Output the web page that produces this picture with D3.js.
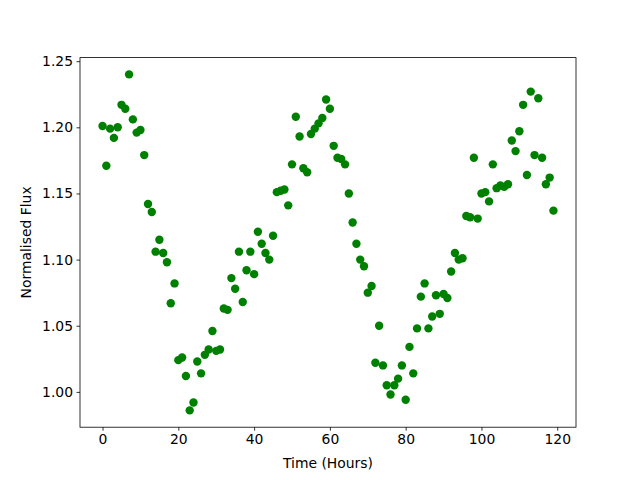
<!DOCTYPE html>
<html>
<head>
<meta charset="utf-8">
<script src="https://cdn.jsdelivr.net/npm/d3@7"></script>
<style>
  body { margin: 0; background: #fff; }
  text { font-family: "DejaVu Sans", sans-serif; }
</style>
</head>
<body>
<div id="viz"></div>
<script>
// hourly samples, 0..119
const hours = d3.range(0, 120);

// normalised flux
const flux = [
  1.201, 1.171, 1.199, 1.192, 1.200, 1.217, 1.214, 1.240, 1.206, 1.196,
  1.198, 1.179, 1.142, 1.136, 1.106, 1.115, 1.105, 1.098, 1.067, 1.082,
  1.024, 1.026, 1.012, 0.986, 0.992, 1.023, 1.014, 1.028, 1.032, 1.046,
  1.031, 1.032, 1.063, 1.062, 1.086, 1.078, 1.106, 1.068, 1.092, 1.106,
  1.089, 1.121, 1.112, 1.105, 1.100, 1.118, 1.151, 1.152, 1.153, 1.141,
  1.172, 1.208, 1.193, 1.169, 1.166, 1.195, 1.199, 1.203, 1.207, 1.221,
  1.214, 1.186, 1.177, 1.176, 1.172, 1.150, 1.128, 1.112, 1.100, 1.095,
  1.075, 1.080, 1.022, 1.050, 1.020, 1.005, 0.998, 1.005, 1.010, 1.020,
  0.994, 1.034, 1.014, 1.048, 1.072, 1.082, 1.048, 1.057, 1.073, 1.059,
  1.074, 1.071, 1.091, 1.105, 1.100, 1.101, 1.133, 1.132, 1.177, 1.131,
  1.150, 1.151, 1.144, 1.172, 1.154, 1.156, 1.155, 1.157, 1.190, 1.182,
  1.197, 1.217, 1.164, 1.227, 1.179, 1.222, 1.177, 1.157, 1.162, 1.137
];

const xTicks = [0, 20, 40, 60, 80, 100, 120];
const yTicks = [1.00, 1.05, 1.10, 1.15, 1.20, 1.25];

const width = 640, height = 480;
const plotLeft = 80, plotRight = 576, plotTop = 57.6, plotBottom = 427.2;

const svg = d3.select("#viz")
    .append("svg")
    .attr("width", width)
    .attr("height", height);

// matplotlib style 5% margins around the data
function padded(vals) {
    const [lo, hi] = d3.extent(vals);
    const m = (hi - lo) * 0.05;
    return [lo - m, hi + m];
}

const xScale = d3.scaleLinear().domain(padded(hours)).range([plotLeft, plotRight]);
const yScale = d3.scaleLinear().domain(padded(flux)).range([plotBottom, plotTop]);

// points
svg.append("g")
    .selectAll("circle")
    .data(hours)
    .enter()
    .append("circle")
    .attr("cx", (d) => xScale(d))
    .attr("cy", (d, i) => yScale(flux[i]))
    .attr("r", 4.2)
    .attr("fill", "#008000");

// axes
const xAxis = svg.append("g")
    .attr("transform", `translate(0,${plotBottom})`)
    .call(d3.axisBottom(xScale).tickValues(xTicks).tickFormat(d3.format("d"))
        .tickSize(3.5).tickPadding(3.5).tickSizeOuter(0));

const yAxis = svg.append("g")
    .attr("transform", `translate(${plotLeft},0)`)
    .call(d3.axisLeft(yScale).tickValues(yTicks).tickFormat(d3.format(".2f"))
        .tickSize(3.5).tickPadding(3.5).tickSizeOuter(0));

[xAxis, yAxis].forEach((g) => {
    g.select(".domain").remove();
    g.selectAll("line").attr("stroke", "#000").attr("stroke-width", 0.8);
    g.selectAll("text")
        .attr("fill", "#000")
        .style("font-size", "13.9px")
        .style("font-family", "'DejaVu Sans', sans-serif");
});

// frame
svg.append("rect")
    .attr("x", plotLeft)
    .attr("y", plotTop)
    .attr("width", plotRight - plotLeft)
    .attr("height", plotBottom - plotTop)
    .attr("fill", "none")
    .attr("stroke", "#000")
    .attr("stroke-width", 0.8);

// labels
svg.append("text")
    .attr("x", (plotLeft + plotRight) / 2)
    .attr("y", 468)
    .attr("text-anchor", "middle")
    .style("font-size", "13.9px")
    .text("Time (Hours)");

svg.append("text")
    .attr("transform", `translate(31,${(plotTop + plotBottom) / 2}) rotate(-90)`)
    .attr("text-anchor", "middle")
    .style("font-size", "13.9px")
    .text("Normalised Flux");
</script>
</body>
</html>
